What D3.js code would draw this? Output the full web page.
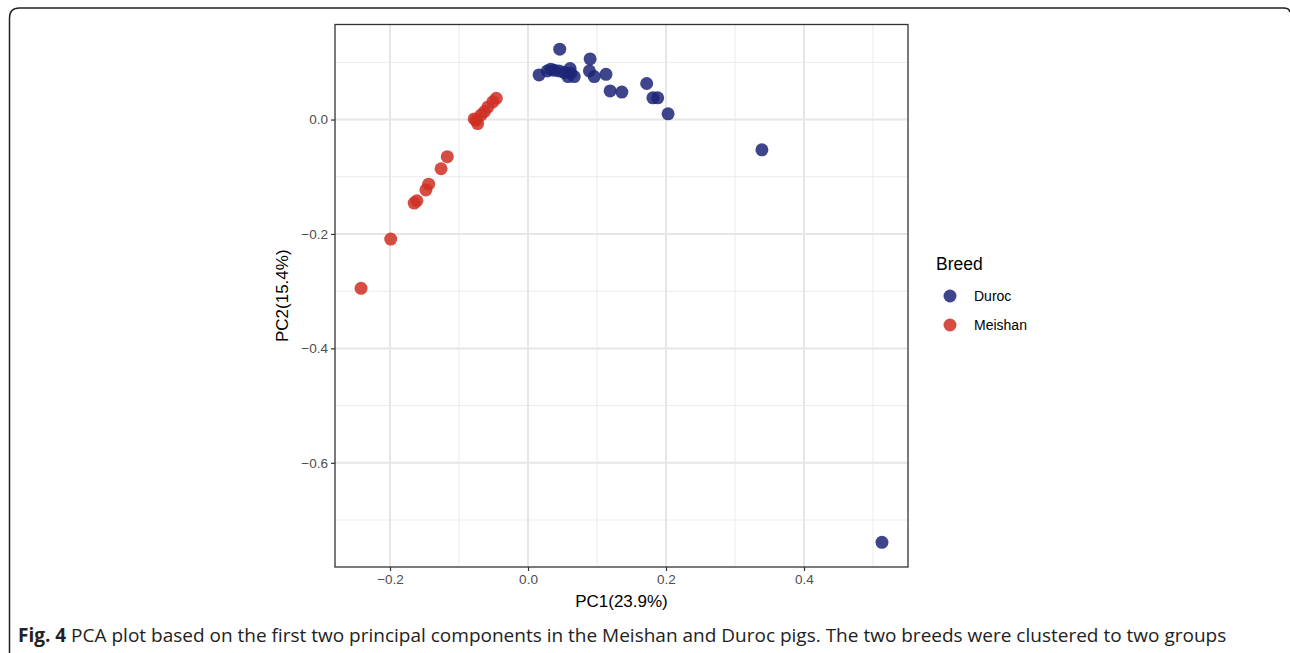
<html>
<head><meta charset="utf-8"></head>
<script src="https://d3js.org/d3.v7.min.js"></script>
<style>
  body { margin: 0; background: #fff; }
  text { font-family: "Liberation Sans", Arial, sans-serif; }
</style>
<body>
<svg width="1290" height="653"></svg>
<script>
// PC scores
var durocPC1 = [0.046, 0.016, 0.028, 0.033, 0.038, 0.045, 0.053, 0.061, 0.062, 0.058, 0.067,
                0.090, 0.089, 0.096, 0.113, 0.119, 0.136, 0.172, 0.181, 0.188, 0.203, 0.339, 0.513];
var durocPC2 = [0.123, 0.078, 0.085, 0.088, 0.086, 0.085, 0.082, 0.089, 0.081, 0.075, 0.075,
                0.106, 0.085, 0.075, 0.079, 0.050, 0.048, 0.063, 0.038, 0.038, 0.010, -0.053, -0.739];
var meishanPC1 = [-0.046, -0.051, -0.058, -0.063, -0.068, -0.075, -0.073, -0.078,
                  -0.117, -0.126, -0.144, -0.148, -0.165, -0.161, -0.199, -0.242];
var meishanPC2 = [0.037, 0.031, 0.022, 0.014, 0.008, -0.001, -0.007, 0.001,
                  -0.065, -0.086, -0.113, -0.123, -0.146, -0.142, -0.209, -0.295];

var breeds = ["Duroc", "Meishan"];
var breedColors = ["#1c2577", "#cf2f22"];
var xMajor = [-0.2, 0, 0.2, 0.4];
var xMinor = [-0.1, 0.1, 0.3, 0.5];
var yMajor = [0, -0.2, -0.4, -0.6];
var yMinor = [0.1, -0.1, -0.3, -0.5, -0.7];

var pts = [];
durocPC1.forEach(function(v, i){ pts.push({breed: "Duroc", x: v, y: durocPC2[i]}); });
meishanPC1.forEach(function(v, i){ pts.push({breed: "Meishan", x: v, y: meishanPC2[i]}); });

var svg = d3.select("svg");

// outer article frame
svg.append("path")
  .attr("d", "M9.5,660 L9.5,18 Q9.5,8 19.5,8 L1284,8 Q1289,8 1290,12")
  .attr("fill", "none").attr("stroke", "#222").attr("stroke-width", 1.5);

var L = 335, R = 908, T = 24.5, B = 567;

function expand(ext){ var d = (ext[1] - ext[0]) * 0.05; return [ext[0] - d, ext[1] + d]; }
var x = d3.scaleLinear().domain(expand(d3.extent(pts, function(d){ return d.x; }))).range([L, R]);
var y = d3.scaleLinear().domain(expand(d3.extent(pts, function(d){ return d.y; }))).range([B, T]);
var color = d3.scaleOrdinal().domain(breeds).range(breedColors);

var g = svg.append("g");

// grid
g.selectAll(".xmin").data(xMinor.filter(function(v){ return x(v) > L && x(v) < R; })).enter().append("line")
  .attr("x1", function(d){ return x(d); }).attr("x2", function(d){ return x(d); })
  .attr("y1", T).attr("y2", B).attr("stroke", "#ebebeb").attr("stroke-width", 1);
g.selectAll(".ymin").data(yMinor.filter(function(v){ return y(v) > T && y(v) < B; })).enter().append("line")
  .attr("y1", function(d){ return y(d); }).attr("y2", function(d){ return y(d); })
  .attr("x1", L).attr("x2", R).attr("stroke", "#ebebeb").attr("stroke-width", 1);
g.selectAll(".xmaj").data(xMajor).enter().append("line")
  .attr("x1", function(d){ return x(d); }).attr("x2", function(d){ return x(d); })
  .attr("y1", T).attr("y2", B).attr("stroke", "#e6e6e6").attr("stroke-width", 2);
g.selectAll(".ymaj").data(yMajor).enter().append("line")
  .attr("y1", function(d){ return y(d); }).attr("y2", function(d){ return y(d); })
  .attr("x1", L).attr("x2", R).attr("stroke", "#e6e6e6").attr("stroke-width", 2);

// points
g.selectAll("circle.pt").data(pts).enter().append("circle")
  .attr("class", "pt")
  .attr("cx", function(d){ return x(d.x); })
  .attr("cy", function(d){ return y(d.y); })
  .attr("r", 6.5)
  .attr("fill", function(d){ return color(d.breed); })
  .attr("fill-opacity", 0.85);

// panel border
g.append("rect").attr("x", L).attr("y", T).attr("width", R - L).attr("height", B - T)
  .attr("fill", "none").attr("stroke", "#333").attr("stroke-width", 1.3);

// axes
var fmt = d3.format(".1f");
var xAxis = svg.append("g").attr("transform", "translate(0," + B + ")")
  .call(d3.axisBottom(x).tickValues(xMajor).tickFormat(fmt).tickSize(4).tickPadding(3));
var yAxis = svg.append("g").attr("transform", "translate(" + L + ",0)")
  .call(d3.axisLeft(y).tickValues(yMajor).tickFormat(fmt).tickSize(4).tickPadding(3));
[xAxis, yAxis].forEach(function(a){
  a.select(".domain").remove();
  a.selectAll(".tick line").attr("stroke", "#333").attr("stroke-width", 1.2);
  a.selectAll(".tick text").attr("fill", "#4d4d4d")
    .style("font-family", "'Liberation Sans', Arial, sans-serif").style("font-size", "13.5px");
});

svg.append("text").attr("x", (L + R) / 2).attr("y", 607).attr("text-anchor", "middle")
  .style("font-size", "17px").attr("fill", "#000").text("PC1(23.9%)");
svg.append("text").attr("transform", "translate(288," + (T + B) / 2 + ") rotate(-90)")
  .attr("text-anchor", "middle").style("font-size", "17px").attr("fill", "#000").text("PC2(15.4%)");

// legend
svg.append("text").attr("x", 936).attr("y", 270).style("font-size", "17.5px").text("Breed");
var leg = svg.selectAll(".leg").data(breeds).enter().append("g")
  .attr("transform", function(d, i){ return "translate(950," + (296 + i * 29) + ")"; });
leg.append("circle").attr("r", 6.5).attr("fill", function(d){ return color(d); }).attr("fill-opacity", 0.85);
leg.append("text").attr("x", 24).attr("y", 5).style("font-size", "14px").text(function(d){ return d; });

// caption
var cap = svg.append("text").attr("x", 18).attr("y", 642)
  .style("font-family", "'Open Sans', 'Noto Sans', sans-serif").style("font-size", "19px").attr("fill", "#222");
cap.append("tspan").attr("font-weight", "bold").text("Fig. 4");
cap.append("tspan").text(" PCA plot based on the first two principal components in the Meishan and Duroc pigs. The two breeds were clustered to two groups");
</script>
</body>
</html>
